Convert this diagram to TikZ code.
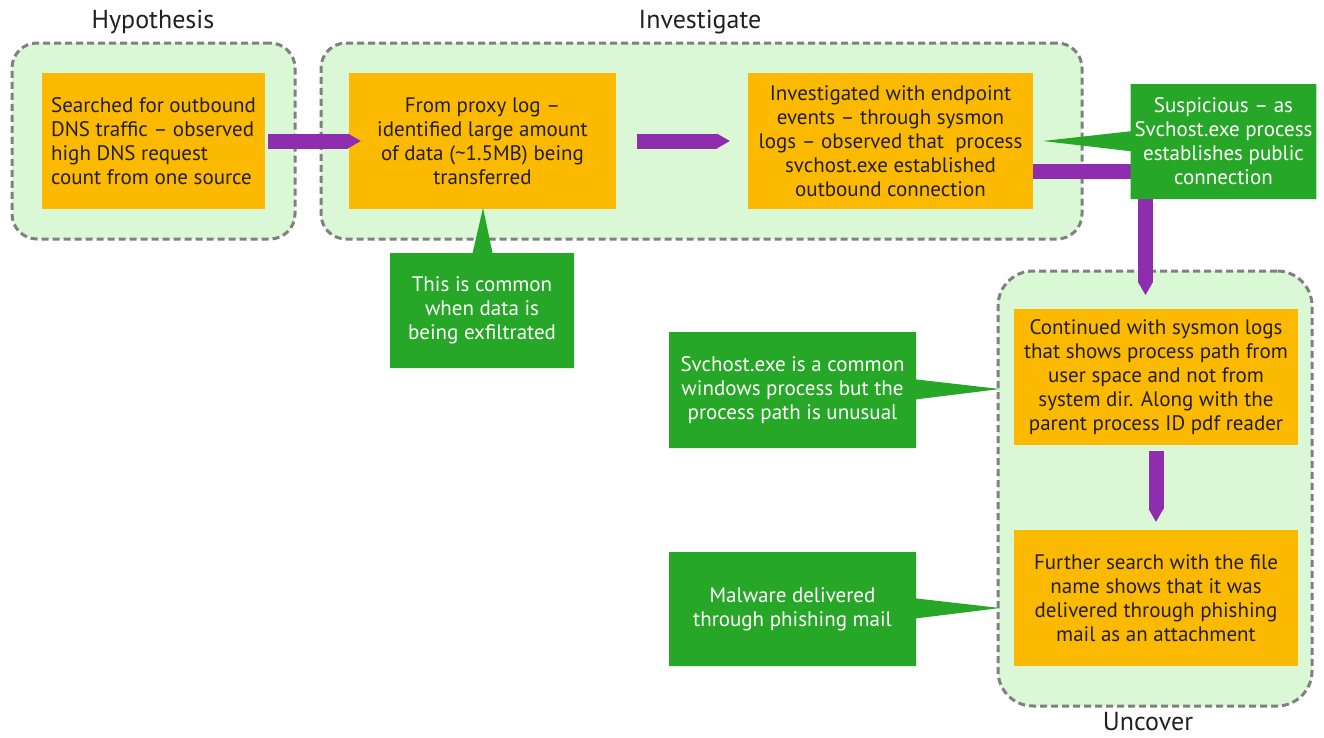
\documentclass[tikz,border=0pt]{standalone}
\usepackage{fontspec}
\setmainfont{PT Sans}
\usetikzlibrary{arrows.meta,positioning,shapes.callouts}
\definecolor{phasebg}{HTML}{DAF7D6}
\definecolor{phaseline}{HTML}{808080}
\definecolor{findbg}{HTML}{FBB900}
\definecolor{notebg}{HTML}{27A727}
\definecolor{flowcol}{HTML}{8E2EAF}
\definecolor{inkcol}{HTML}{231F20}

\begin{document}
\begin{tikzpicture}[x=1pt,y=-1pt,
  phase/.style={draw=phaseline,fill=phasebg,line width=3pt,dash pattern=on 7pt off 4pt,rounded corners=25pt,inner sep=0pt},
  phasetitle/.style={text=inkcol,font=\fontsize{26}{30}\selectfont},
  finding/.style={fill=findbg,text=inkcol,minimum height=136pt,align=center,inner sep=4pt,font=\fontsize{21}{24}\selectfont},
  note/.style={rectangle callout,fill=notebg,text=white,align=center,inner sep=4pt,callout pointer width=20pt,font=\fontsize{21}{24}\selectfont},
  flow/.style={draw=flowcol,line width=15pt,-{Triangle[width=15pt,length=13pt,line width=0pt]}}]
\useasboundingbox (0,0) rectangle (1324,737);
\node[phase,minimum width=283pt,minimum height=196pt] (hypgrp) at (153.5,141) {};
\node[phase,minimum width=761pt,minimum height=196pt] (invgrp) at (701.5,141) {};
\node[phase,rounded corners=35pt,minimum width=314pt,minimum height=435pt] (uncgrp) at (1155,488.5) {};
\node[phasetitle] (hyptitle) at (153,22) {Hypothesis};
\node[phasetitle] (invtitle) at (700,22) {Investigate};
\node[phasetitle] (unctitle) at (1148,722) {Uncover};
\node[finding,minimum width=223pt,align=left] (dns) at (153.5,141) {Searched for outbound\\DNS traffic -- observed\\high DNS request\\count from one source};
\node[finding,minimum width=267pt] (proxy) at (482.5,141) {From proxy log --\\identified large amount\\of data (\textasciitilde1.5MB) being\\transferred};
\node[finding,minimum width=285pt] (sysmon) at (890.5,141) {Investigated with endpoint\\events -- through sysmon\\logs -- observed that\ \ process\\svchost.exe established\\outbound connection};
\node[finding,minimum width=284pt] (path) at (1156,377) {Continued with sysmon logs\\that shows process path from\\user space and not from\\system dir. Along with the\\parent process ID pdf reader};
\node[finding,minimum width=284pt] (mail) at (1156,598) {Further search with the file\\name shows that it was\\delivered through phishing\\mail as an attachment};
\coordinate (drop) at (1145.5,295);
\draw[flow] ([xshift=3pt]dns.east) -- ([xshift=12pt]proxy.west);
\draw[flow] ([xshift=21pt]proxy.east) -- ([xshift=-18pt]sysmon.west);
\draw[flow] ([yshift=-30.5pt]sysmon.east) -| (drop);
\draw[flow] ([yshift=-6pt]path.south) -- ([yshift=8pt]mail.north);
\node[note,minimum width=185pt,minimum height=115pt,callout absolute pointer={(1043,141)}] (susp) at (1223.5,141.5) {Suspicious -- as\\Svchost.exe process\\establishes public\\connection};
\node[note,minimum width=184pt,minimum height=115pt,callout absolute pointer={(483,208)}] (common) at (482,310.5) {This is common\\when data is\\being exfiltrated};
\node[note,minimum width=247pt,minimum height=116pt,callout absolute pointer={(1000,389)}] (svc) at (792.5,390) {Svchost.exe is a common\\windows process but the\\process path is unusual};
\node[note,minimum width=247pt,minimum height=114pt,callout absolute pointer={(1000,608)}] (mal) at (792.5,609) {Malware delivered\\through phishing mail};
\end{tikzpicture}
\end{document}
